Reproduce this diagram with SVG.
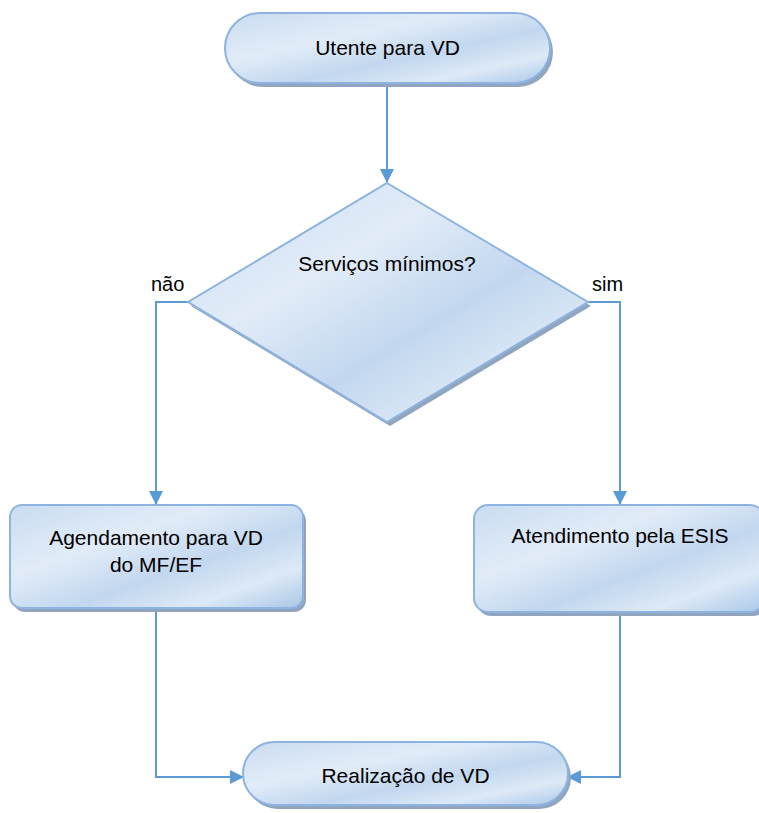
<svg xmlns="http://www.w3.org/2000/svg" width="759" height="813" viewBox="0 0 759 813">
<defs>
<linearGradient id="g" x1="0" y1="0" x2="1" y2="1">
<stop offset="0" stop-color="#c9dcf1"/>
<stop offset="0.35" stop-color="#e2ecf8"/>
<stop offset="0.6" stop-color="#c2d7ef"/>
<stop offset="0.8" stop-color="#dde9f6"/>
<stop offset="1" stop-color="#a9c7e8"/>
</linearGradient>
<marker id="ah2" markerWidth="14" markerHeight="14" refX="13" refY="7" orient="auto" markerUnits="userSpaceOnUse" viewBox="0 0 14 14">
<path d="M0,0 L14,7 L0,14 Z" fill="#5b9bd5"/>
</marker>
</defs>
<style>
.shape{fill:url(#g);stroke:#8db4e0;stroke-width:2}
.shadow{fill:#91a6be}
.conn{fill:none;stroke:#5b9bd5;stroke-width:2}
text{font-family:"Liberation Sans","Noto Sans",sans-serif;font-size:21px;fill:#000;text-anchor:middle}
.lbl{text-anchor:start;font-size:20px}
</style>
<g id="connectors">
<path class="conn" d="M387,84 V182" marker-end="url(#ah2)"/>
<path class="conn" d="M188,302 H156 V504" marker-end="url(#ah2)"/>
<path class="conn" d="M588,302 H620 V504" marker-end="url(#ah2)"/>
<path class="conn" d="M156,612 V777 H243" marker-end="url(#ah2)"/>
<path class="conn" d="M620,616 V777 H568" marker-end="url(#ah2)"/>
</g>
<g id="n-start">
<rect class="shadow" x="228" y="17" width="325" height="70" rx="35"/>
<rect class="shape" x="225" y="13" width="325" height="70" rx="35"/>
<text x="387.5" y="55">Utente para VD</text>
</g>
<g id="n-decision">
<polygon class="shadow" points="390,187 591,306 390,426 191,306"/>
<polygon class="shape" points="387,183 588,302 387,422 188,302"/>
<text x="387" y="271">Serviços mínimos?</text>
</g>
<g id="n-agendamento">
<rect class="shadow" x="13" y="509" width="293" height="103" rx="12"/>
<rect class="shape" x="10" y="505" width="293" height="103" rx="12"/>
<text x="156" y="545">Agendamento para VD</text>
<text x="156" y="572">do MF/EF</text>
</g>
<g id="n-atendimento">
<rect class="shadow" x="477" y="509" width="290" height="107" rx="14"/>
<rect class="shape" x="474" y="505" width="290" height="107" rx="14"/>
<text x="620" y="543">Atendimento pela ESIS</text>
</g>
<g id="n-end">
<rect class="shadow" x="246" y="746" width="325" height="63" rx="31.5"/>
<rect class="shape" x="243" y="742" width="325" height="63" rx="31.5"/>
<text x="405.5" y="783">Realização de VD</text>
</g>
<g id="labels">
<text class="lbl" x="151" y="291">não</text>
<text class="lbl" x="592" y="291">sim</text>
</g>
</svg>
